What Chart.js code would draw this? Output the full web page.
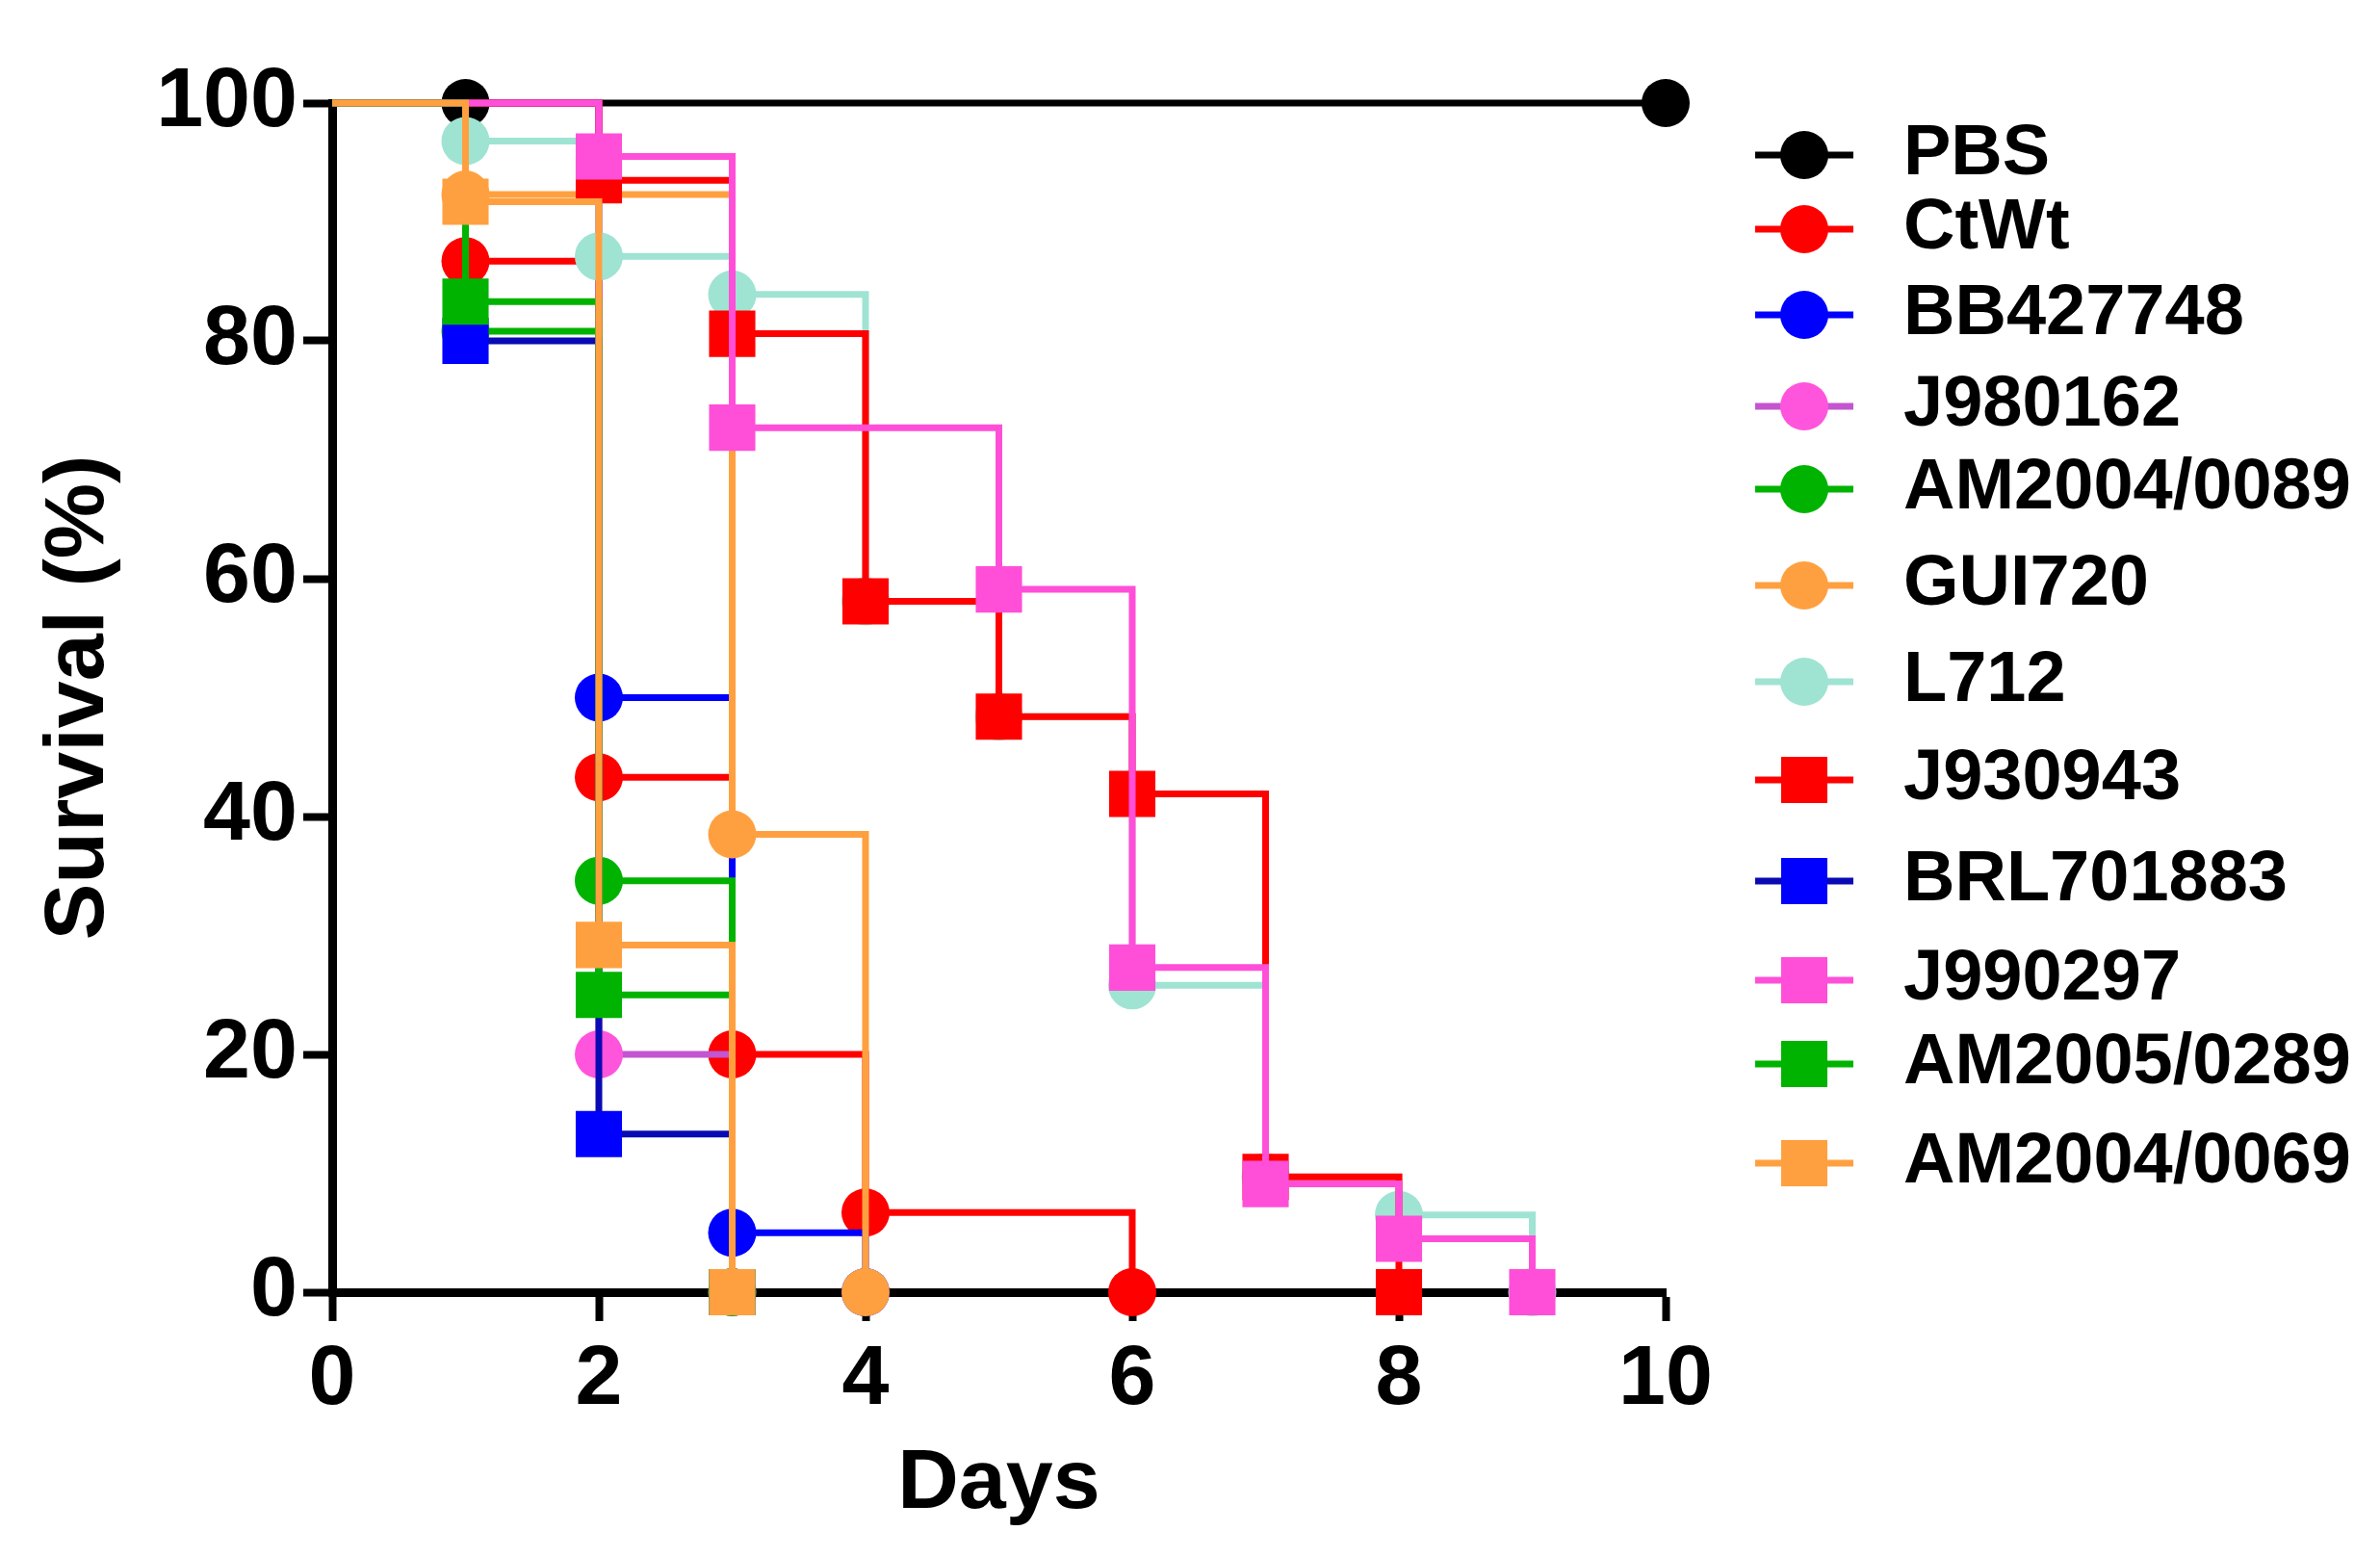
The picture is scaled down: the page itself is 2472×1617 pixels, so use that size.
<!DOCTYPE html>
<html>
<head>
<meta charset="utf-8">
<script src="https://cdn.jsdelivr.net/npm/chart.js@4.4.1/dist/chart.umd.min.js"></script>
<style>
  html, body { margin: 0; padding: 0; background: #ffffff; }
  canvas { display: block; }
</style>
</head>
<body>
<canvas id="myChart" width="2472" height="1617"></canvas>
<script>
// Kaplan-Meier survival data (days / % survival)
const pbsDays = [0, 1, 10];
const pbsSurvival = [100, 100, 100];

const ctwtDays = [0, 1, 2, 3, 4, 6];
const ctwtSurvival = [100, 86.7, 43.3, 20, 6.7, 0];

const bb427748Days = [0, 2, 3, 4];
const bb427748Survival = [100, 50, 5, 0];

const j980162Days = [0, 2, 3];
const j980162Survival = [100, 20, 0];

const am20040089Days = [0, 1, 2, 3];
const am20040089Survival = [100, 80.8, 34.6, 0];

const gui720Days = [0, 1, 3, 4];
const gui720Survival = [100, 92.3, 38.5, 0];

const l712Days = [0, 1, 2, 3, 4, 5, 6, 7, 8, 9];
const l712Survival = [100, 96.8, 87.1, 83.9, 58.1, 48.4, 25.8, 9.7, 6.5, 0];

const j930943Days = [0, 2, 3, 4, 5, 6, 7, 8];
const j930943Survival = [100, 93.5, 80.6, 58.1, 48.4, 41.9, 9.7, 0];

const brl701883Days = [0, 1, 2, 3];
const brl701883Survival = [100, 80, 13.3, 0];

const j990297Days = [0, 2, 3, 5, 6, 7, 8, 9];
const j990297Survival = [100, 95.5, 72.7, 59.1, 27.3, 9.1, 4.5, 0];

const am20050289Days = [0, 1, 2, 3];
const am20050289Survival = [100, 83.3, 25, 0];

const am20040069Days = [0, 1, 2, 3];
const am20040069Survival = [100, 91.7, 29.2, 0];

const X_TICKS = [0, 2, 4, 6, 8, 10];
const Y_TICKS = [0, 20, 40, 60, 80, 100];

const FONT = '"Liberation Sans", Arial, sans-serif';

// label, days, survival, marker colour, line colour, marker shape
const series = [
    ["PBS", pbsDays, pbsSurvival, "#000000", "#000000", "circle"],
    ["CtWt", ctwtDays, ctwtSurvival, "#ff0000", "#ff0000", "circle"],
    ["BB427748", bb427748Days, bb427748Survival, "#0000ff", "#0000ff", "circle"],
    ["J980162", j980162Days, j980162Survival, "#ff55dd", "#c455d0", "circle"],
    ["AM2004/0089", am20040089Days, am20040089Survival, "#00b300", "#00b300", "circle"],
    ["GUI720", gui720Days, gui720Survival, "#ffa040", "#ffa040", "circle"],
    ["L712", l712Days, l712Survival, "#9fe3d3", "#9fe3d3", "circle"],
    ["J930943", j930943Days, j930943Survival, "#ff0000", "#ff0000", "rect"],
    ["BRL701883", brl701883Days, brl701883Survival, "#0000ff", "#0a0ab4", "rect"],
    ["J990297", j990297Days, j990297Survival, "#ff4fd8", "#ff4fd8", "rect"],
    ["AM2005/0289", am20050289Days, am20050289Survival, "#00b300", "#00b300", "rect"],
    ["AM2004/0069", am20040069Days, am20040069Survival, "#ffa040", "#ffa040", "rect"],
];

// legend rows (y centre of each entry)
const LEGEND_Y = [161, 238, 327, 422, 508, 608, 708, 810, 915, 1018, 1105, 1208];

const datasets = series.map(function (s, i) {
    return {
        label: s[0],
        data: s[1].map(function (d, k) { return { x: d, y: s[2][k] }; }),
        borderColor: s[4],
        backgroundColor: s[3],
        pointBackgroundColor: s[3],
        pointBorderWidth: 0,
        pointStyle: s[5],
        // no marker at the day-0 start point
        pointRadius: function (c) {
            if (c.dataIndex === 0) return 0;
            return s[5] === "rect" ? 34 : 25;
        },
        borderWidth: 7,
        stepped: true,
        fill: false,
        clip: false,
        order: series.length - i,   // later series drawn on top
    };
});

// line + marker + name, as in the figure
const kmLegend = {
    id: "kmLegend",
    afterDraw(chart) {
        const ctx = chart.ctx;
        chart.data.datasets.forEach(function (ds, i) {
            const y = LEGEND_Y[i];
            const cx = 1874;
            ctx.save();
            ctx.strokeStyle = ds.borderColor;
            ctx.lineWidth = 7;
            ctx.beginPath();
            ctx.moveTo(cx - 51, y);
            ctx.lineTo(cx + 51, y);
            ctx.stroke();
            ctx.fillStyle = ds.pointBackgroundColor;
            if (ds.pointStyle === "rect") {
                ctx.fillRect(cx - 24, y - 24, 48, 48);
            } else {
                ctx.beginPath();
                ctx.arc(cx, y, 25, 0, Math.PI * 2);
                ctx.fill();
            }
            ctx.fillStyle = "#000000";
            ctx.font = "bold 74px " + FONT;
            ctx.textBaseline = "middle";
            ctx.textAlign = "left";
            ctx.fillText(ds.label, 1977, y);
            ctx.restore();
        });
    },
};

const config = {
    type: "line",
    data: { datasets: datasets },
    options: {
        responsive: false,
        devicePixelRatio: 1,
        animation: false,
        events: [],
        layout: { padding: { top: 107, right: 742, bottom: 0, left: 0 } },
        plugins: {
            legend: { display: false },
            tooltip: { enabled: false },
        },
        scales: {
            x: {
                type: "linear",
                min: 0,
                max: 10,
                afterBuildTicks: function (axis) {
                    axis.ticks = X_TICKS.map(function (v) { return { value: v }; });
                },
                afterFit: function (scale) { scale.height = 275; },
                grid: {
                    drawOnChartArea: false,
                    drawTicks: true,
                    tickLength: 30,
                    tickWidth: 8,
                    tickColor: "#000000",
                },
                border: { display: true, color: "#000000", width: 9 },
                ticks: {
                    color: "#000000",
                    padding: 9,
                    font: { family: FONT, size: 88, weight: "bold" },
                },
                title: {
                    display: true,
                    text: "Days",
                    color: "#000000",
                    padding: { top: 0, bottom: 22 },
                    font: { family: FONT, size: 88, weight: "bold" },
                },
            },
            y: {
                type: "linear",
                min: 0,
                max: 100,
                afterBuildTicks: function (axis) {
                    axis.ticks = Y_TICKS.map(function (v) { return { value: v }; });
                },
                afterFit: function (scale) { scale.width = 345; },
                grid: {
                    drawOnChartArea: false,
                    drawTicks: true,
                    tickLength: 30,
                    tickWidth: 8,
                    tickColor: "#000000",
                },
                border: { display: true, color: "#000000", width: 9 },
                ticks: {
                    color: "#000000",
                    padding: 6,
                    font: { family: FONT, size: 88, weight: "bold" },
                },
                title: {
                    display: true,
                    text: "Survival (%)",
                    color: "#000000",
                    padding: { top: 30, bottom: 0 },
                    font: { family: FONT, size: 88, weight: "bold" },
                },
            },
        },
    },
    plugins: [kmLegend],
};

var ctx = document.getElementById("myChart").getContext("2d");
var myChart = new Chart(ctx, config);
</script>
</body>
</html>
